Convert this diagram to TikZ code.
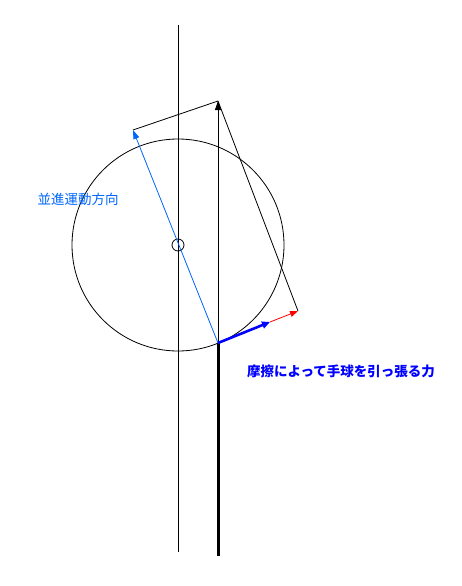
\documentclass[tikz,border=0pt]{standalone}
\usepackage{fontspec}
\usepackage{amsmath}
\usepackage{tikz}
\usetikzlibrary{arrows.meta}
\newfontfamily\jpfont{Noto Sans CJK JP}
\definecolor{moveblue}{RGB}{0,102,255}
\definecolor{pullblue}{RGB}{0,0,255}
\definecolor{partred}{RGB}{255,0,0}

\begin{document}
\begin{tikzpicture}[x=1pt,y=-1pt]
\tikzstyle{every node}+=[inner sep=0pt]
\tikzstyle{thin line}=[line width=0.8pt]
\tikzstyle{force tip}=[-{Triangle[length=9pt,width=6pt]}]
\useasboundingbox (0,0) rectangle (461,586);
\coordinate (axisTop) at (178,25);
\coordinate (axisBot) at (178,552);
\coordinate (center) at (178,245);
\coordinate (contact) at (218,343);
\coordinate (cueEnd) at (218,556);
\coordinate (forceTip) at (218,101);
\coordinate (moveTip) at (133,130);
\coordinate (sideTip) at (298,311);
\coordinate (pullTip) at (270,322);
% ball and axis
\draw [black, thin line] (axisTop) -- (axisBot);
\draw [black, thin line] (center) circle [radius=106pt];
\draw [black, thin line] (center) circle [radius=6pt];
\draw [black, line width=3pt] (contact) -- (cueEnd);
% parallelogram
\draw [black, thin line] (moveTip) -- (forceTip);
\draw [black, thin line] (forceTip) -- (sideTip);
\draw [black, thin line, force tip] (contact) -- (forceTip);
\draw [moveblue, thin line, force tip] (contact) -- (moveTip);
\draw [partred, thin line, -{Triangle[length=8pt,width=6pt]}] (pullTip) -- (sideTip);
\draw [pullblue, line width=2.6pt, -{Triangle[length=8pt,width=7pt]}] (contact) -- (pullTip);
% labels
\node [text=moveblue, font=\jpfont\fontsize{13.5}{14}\selectfont] (moveLabel) at (78,199) {並進運動方向};
\node [text=pullblue, font=\jpfont\bfseries\fontsize{13.5}{14}\selectfont] (pullLabel) at (341,371) {摩擦によって手球を引っ張る力};
\end{tikzpicture}
\end{document}
